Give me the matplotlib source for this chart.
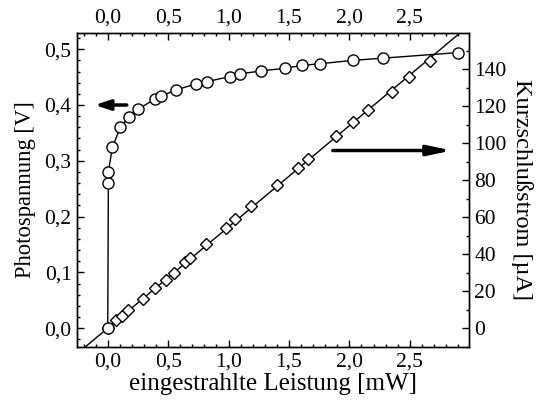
import numpy as np
import matplotlib.pyplot as plt
from matplotlib.ticker import MultipleLocator, FuncFormatter

plt.rcParams['font.family'] = ['Liberation Serif', 'DejaVu Serif']

# Photospannung (Kreise)
p_leistung = [0.0, 0.005, 0.005, 0.038, 0.104, 0.176, 0.248, 0.392, 0.444, 0.563,
              0.734, 0.823, 1.010, 1.096, 1.268, 1.469, 1.607, 1.759, 2.027, 2.278, 2.902]
p_spannung = [0.0, 0.260, 0.280, 0.324, 0.360, 0.379, 0.392, 0.411, 0.416, 0.427,
              0.438, 0.442, 0.451, 0.456, 0.461, 0.466, 0.471, 0.474, 0.480, 0.484, 0.494]

# Kurzschlussstrom (Rauten)
i_leistung = [0.0, 0.066, 0.121, 0.171, 0.290, 0.395, 0.480, 0.547, 0.640, 0.682,
              0.817, 0.978, 1.057, 1.185, 1.397, 1.571, 1.657, 1.889, 2.030, 2.157,
              2.350, 2.497, 2.670]
i_strom = [0.0, 4.1, 6.7, 9.6, 15.8, 21.7, 26.2, 29.9, 35.9, 38.0,
           45.7, 54.0, 58.9, 65.8, 77.3, 86.6, 91.5, 103.6, 111.4, 118.1,
           127.7, 135.5, 144.3]

komma = FuncFormatter(lambda v, pos: f'{v:.1f}'.replace('.', ','))

fig = plt.figure(figsize=(5.39, 4.03), dpi=100)
ax = fig.add_axes([0.143, 0.14, 0.727, 0.778])
ax2 = ax.twinx()

# lineare Anpassung durch die Stromwerte (durch den Ursprung)
slope = np.sum(np.array(i_leistung) * np.array(i_strom)) / np.sum(np.array(i_leistung) ** 2)
fit_x = np.array([-0.3, 3.1])
ax2.plot(fit_x, slope * fit_x, color='black', lw=1.0, zorder=1)
ax2.plot(i_leistung, i_strom, ls='none', marker='D', ms=6.5, mfc='white',
         mec='black', mew=1.0, zorder=2)

ax.plot(p_leistung, p_spannung, color='black', lw=1.0, marker='o', ms=8,
        mfc='white', mec='black', mew=1.0)
ax.set_zorder(ax2.get_zorder() + 1)
ax.patch.set_visible(False)

ax.set_xlim(-0.254, 2.99)
ax.set_ylim(-0.033, 0.529)
ax2.set_ylim(-10, 159.5)

ax.xaxis.set_major_locator(MultipleLocator(0.5))
ax.xaxis.set_minor_locator(MultipleLocator(0.1))
ax.yaxis.set_major_locator(MultipleLocator(0.1))
ax.yaxis.set_minor_locator(MultipleLocator(0.02))
ax.xaxis.set_major_formatter(komma)
ax.yaxis.set_major_formatter(komma)
ax2.yaxis.set_major_locator(MultipleLocator(20))
ax2.yaxis.set_minor_locator(MultipleLocator(10))

ax.tick_params(which='both', direction='in', top=True, labeltop=True,
               labelsize=15.5, width=1.0, pad=4)
ax.tick_params(which='major', length=5)
ax.tick_params(which='minor', length=2.5)
ax2.tick_params(which='both', direction='in', labelsize=15.5, width=1.0, pad=4)
ax2.tick_params(which='major', length=5)
ax2.tick_params(which='minor', length=2.5)
for a in (ax, ax2):
    for s in a.spines.values():
        s.set_linewidth(1.0)

ax.set_xlabel('eingestrahlte Leistung [mW]', fontsize=18, labelpad=1)
ax.set_ylabel('Photospannung [V]', fontsize=16.3, labelpad=6)
ax2.set_ylabel('Kurzschlußstrom [µA]', fontsize=17.5, rotation=270, labelpad=19)

# Pfeile zur Achsenzuordnung
ax.annotate('', xy=(-0.13, 0.4), xytext=(0.18, 0.4),
            arrowprops=dict(arrowstyle='-|>,head_length=0.9,head_width=0.3',
                            color='black', lw=2.5))
ax2.annotate('', xy=(2.87, 96), xytext=(1.84, 96),
             arrowprops=dict(arrowstyle='-|>,head_length=1.4,head_width=0.3',
                             color='black', lw=2.5))

fig.savefig('out.png', dpi=100)
